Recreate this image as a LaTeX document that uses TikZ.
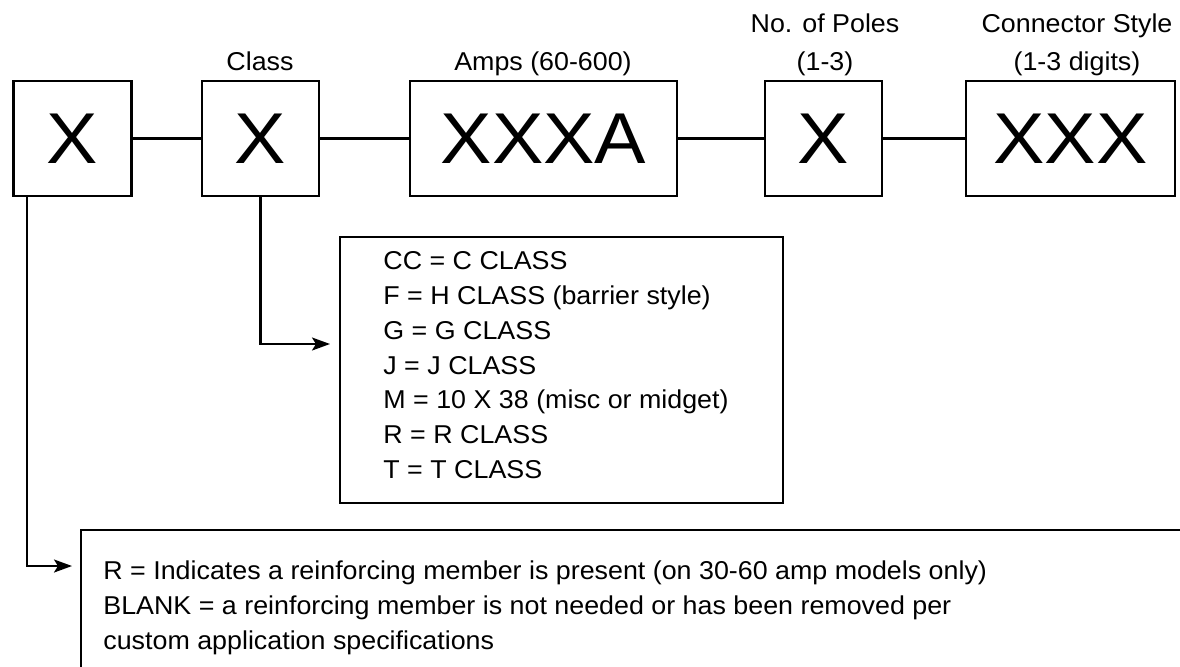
\documentclass[tikz,border=0pt]{standalone}
\usepackage{fontspec}
\setmainfont[FakeStretch=1.04]{Liberation Sans}
\newfontfamily\bigfont[FakeStretch=1.07]{Liberation Sans}
\usepackage{tikz}
\usetikzlibrary{positioning,arrows.meta}

\begin{document}
\begin{tikzpicture}[x=0.5pt, y=-0.5pt,
    cbox/.style={draw, line width=1.1pt, minimum height=57.5pt, inner sep=0pt,
                 font=\bigfont\fontsize{36}{40}\selectfont},
    lbl/.style={inner sep=0pt, anchor=base, align=center,
                font=\fontsize{12.9}{19}\selectfont},
    keybox/.style={draw, line width=1.1pt, inner sep=0pt},
    keytext/.style={inner sep=0pt, anchor=north west, align=left,
                font=\fontsize{12.9}{17.35}\selectfont},
    link/.style={line width=1.1pt},
    arr/.style={-{Stealth[length=9pt, width=6.5pt, inset=2pt]}, line width=1.1pt}]
  \useasboundingbox (0,0) rectangle (1180,666);
  \clip (0,0) rectangle (1180,666);

  % code boxes
  \node[cbox, minimum width=59pt]    (pfx)  at (72.4,138.5)   {X};
  \node[cbox, minimum width=58.75pt] (cls)  at (260.5,138.5)  {X};
  \node[cbox, minimum width=133.5pt] (amp)  at (543.4,138.5)  {XXXA};
  \node[cbox, minimum width=58.5pt]  (pol)  at (823.2,138.5)  {X};
  \node[cbox, minimum width=104.5pt] (con)  at (1070.4,138.5) {XXX};

  \draw[link] (pfx) -- (cls);
  \draw[link] (cls) -- (amp);
  \draw[link] (amp) -- (pol);
  \draw[link] (pol) -- (con);

  % headings
  \node[lbl] (clslbl) at (260,70)  {Class};
  \node[lbl] (amplbl) at (543,70)  {Amps (60-600)};
  \node[lbl] (pollbl) at (825,70)  {No. of Poles\\(1-3)};
  \node[lbl] (conlbl) at (1077,70) {Connector Style\\(1-3 digits)};

  % class key
  \node[keybox, minimum width=221.5pt, minimum height=133pt] (key) at (561.5,370) {};
  \node[keytext] (keylist) at (383,251.5) {CC = C CLASS\\
    F = H CLASS (barrier style)\\
    G = G CLASS\\
    J = J CLASS\\
    M = 10 X 38 (misc or midget)\\
    R = R CLASS\\
    T = T CLASS};
  \coordinate (keyin) at (330,344);
  \draw[arr] (cls.south) |- (keyin);

  % reinforcing key (runs off the page)
  \node[keybox, minimum width=600pt, minimum height=100pt, anchor=north west] (rein) at (79.6,529) {};
  \node[keytext] (reinlist) at (103,560.5) {R = Indicates a reinforcing member is present (on 30-60 amp models only)\\
    BLANK = a reinforcing member is not needed or has been removed per\\
    custom application specifications};
  \coordinate (reinin) at (72,566);
  \draw[arr] ([xshift=7.5pt]pfx.south west) |- (reinin);
\end{tikzpicture}
\end{document}
